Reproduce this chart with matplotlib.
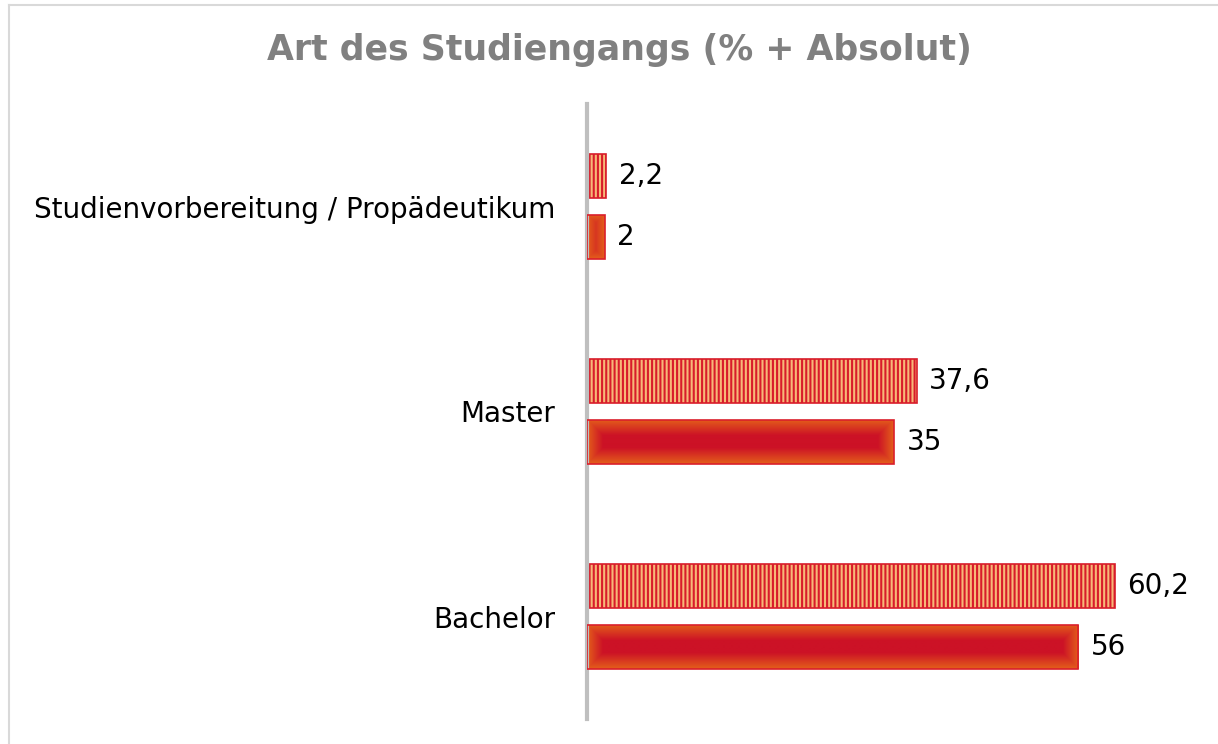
import numpy as np
import matplotlib.pyplot as plt
from matplotlib.lines import Line2D
from matplotlib.colors import to_rgb

# Daten
kategorien = ["Bachelor", "Master", "Studienvorbereitung / Propädeutikum"]
prozent = [60.2, 37.6, 2.2]
absolut = [56, 35, 2]

plt.rcParams['font.family'] = ['DejaVu Sans']
plt.rcParams['hatch.linewidth'] = 1.5

fig = plt.figure(figsize=(12.18, 7.44), dpi=100)
ax = fig.add_axes([587 / 1218, 1 - 719 / 744, 614 / 1218, 615 / 744])

y = np.arange(len(kategorien))
h = 0.215
off = 0.15
ax.set_xlim(0, 70)
ax.set_ylim(-0.5, 2.5)

# Balken Prozent (gestreift)
ax.barh(y + off, prozent, height=h, facecolor='#F7B878', edgecolor='#D81C2A',
        hatch='||||', linewidth=1.2, zorder=2)

# Balken absolut (Verlauf rot -> orange am Rand)
rot = np.array(to_rgb('#CC1226'))
orange = np.array(to_rgb('#E4601A'))
sx = ax.bbox.width / 70.0
sy = ax.bbox.height / 3.0
for yi, v in zip(y, absolut):
    bars = ax.barh(yi - off, v, height=h, facecolor='none', edgecolor='#DA1F2B',
                   linewidth=1.2, zorder=3)
    wpx = max(int(v * sx), 2)
    hpx = max(int(h * sy), 2)
    xx = np.arange(wpx) + 0.5
    yy = np.arange(hpx) + 0.5
    dx = np.minimum(xx, wpx - xx)
    dy = np.minimum(yy, hpx - yy)
    d = np.minimum(dx[None, :], dy[:, None])
    t = np.clip(d / 16.0, 0, 1)[..., None]
    img = orange * (1 - t) + rot * t
    im = ax.imshow(img, extent=[0, v, yi - off - h / 2, yi - off + h / 2],
                   aspect='auto', interpolation='bilinear', zorder=2)
    im.set_clip_path(bars[0])

# Werte
for yi, p, a in zip(y, prozent, absolut):
    ax.annotate(str(p).replace('.', ','), (p, yi + off), xytext=(9, 0),
                textcoords='offset points', va='center', ha='left', fontsize=20)
    ax.annotate(str(a), (a, yi - off), xytext=(9, 0),
                textcoords='offset points', va='center', ha='left', fontsize=20)

ax.set_yticks(y)
ax.set_yticklabels(kategorien, fontsize=20)
ax.tick_params(axis='y', length=0, pad=23)
ax.set_xticks([])
for s in ['top', 'right', 'bottom']:
    ax.spines[s].set_visible(False)
ax.spines['left'].set_color('#BFBFBF')
ax.spines['left'].set_linewidth(3)

fig.text(619 / 1218, 1 - 50 / 744, "Art des Studiengangs (% + Absolut)",
         ha='center', va='center', fontsize=25, fontweight='bold', color='#808080')

# Rahmen
fig.add_artist(Line2D([9 / 1218, 1], [1 - 5 / 744, 1 - 5 / 744], color='#D9D9D9', lw=1.5))
fig.add_artist(Line2D([9 / 1218, 9 / 1218], [0, 1 - 5 / 744], color='#D9D9D9', lw=1.5))

fig.savefig('out.png', dpi=100)
